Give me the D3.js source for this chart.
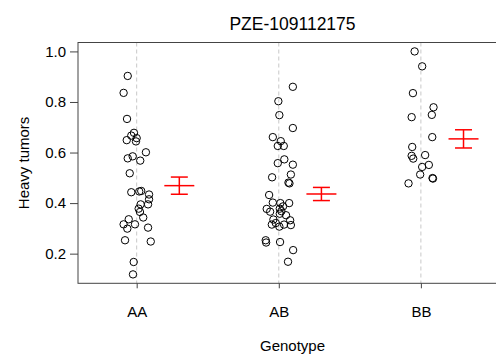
<!DOCTYPE html>
<html>
<head>
<meta charset="utf-8">
<script src="https://cdn.jsdelivr.net/npm/d3@7"></script>
<style>
  body { margin: 0; background: #fff; }
  text { font-family: "Liberation Sans", Arial, sans-serif; fill: #000; }
</style>
</head>
<body>
<svg id="chart" width="496" height="356"></svg>
<script>
// categories and title
const genotypes = ["AA", "AB", "BB"];
const title = "PZE-109112175";
const yTicks = [0.2, 0.4, 0.6, 0.8, 1.0];

// observed values per genotype (heavy tumor proportion)
const aaValues = [0.903, 0.836, 0.733, 0.678, 0.667, 0.657, 0.649, 0.644, 0.601, 0.585, 0.577, 0.568,
  0.518, 0.443, 0.446, 0.448, 0.434, 0.415, 0.395, 0.395, 0.378, 0.365, 0.343, 0.336, 0.316, 0.316,
  0.299, 0.303, 0.253, 0.248, 0.167, 0.118];
const aaJitter = [-0.063, -0.092, -0.068, -0.019, -0.038, 0, -0.070, -0.005, 0.065, -0.028, -0.063, 0.025,
  -0.049, -0.038, 0.018, 0.032, 0.087, 0.087, 0.028, 0.080, 0.014, 0.023, 0.046, -0.056, -0.092, -0.012,
  -0.066, 0.080, -0.082, 0.099, -0.021, -0.026];

const abValues = [0.860, 0.803, 0.748, 0.697, 0.661, 0.645, 0.626, 0.626, 0.573, 0.558, 0.552, 0.502,
  0.513, 0.481, 0.478, 0.432, 0.402, 0.400, 0.400, 0.377, 0.366, 0.378, 0.368, 0.352, 0.335, 0.321,
  0.315, 0.307, 0.315, 0.332, 0.313, 0.253, 0.244, 0.246, 0.214, 0.168, 0.358, 0.387];
const abJitter = [0.099, -0.003, 0.004, 0.099, -0.042, 0.014, -0.007, 0.035, 0.039, -0.007, 0.099, -0.047,
  0.085, 0.068, 0.075, -0.068, -0.042, 0.011, 0.073, -0.085, -0.061, 0.007, 0.018, 0.051, -0.038, -0.021,
  -0.049, 0.004, 0.037, 0.080, 0.085, -0.092, -0.089, 0.009, 0.101, 0.065, 0.007, 0.030];

const bbValues = [1.000, 0.941, 0.835, 0.779, 0.749, 0.740, 0.661, 0.622, 0.587, 0.576, 0.590, 0.551,
  0.543, 0.513, 0.499, 0.497, 0.478];
const bbJitter = [-0.044, 0.009, -0.056, 0.089, 0.077, -0.065, 0.080, -0.061, -0.065, -0.054, 0.030, 0.056,
  0.009, -0.005, 0.082, 0.085, -0.087];

// group mean and standard error (red bars)
const means = [0.469, 0.436, 0.654];
const stdErrs = [0.034, 0.026, 0.036];

const groups = [
  { values: aaValues, jitter: aaJitter },
  { values: abValues, jitter: abJitter },
  { values: bbValues, jitter: bbJitter },
];

// layout
const box = { left: 78, right: 507, top: 42.5, bottom: 283.3 };
const svg = d3.select("#chart");

const points = groups.flatMap((g, gi) =>
  g.values.map((v, i) => ({ x: gi + 1 + g.jitter[i], y: v })));

// R style ylim: data range padded by 4%
const [ymin, ymax] = d3.extent(points, (d) => d.y);
const pad = (ymax - ymin) * 0.04;
const y = d3.scaleLinear().domain([ymin - pad, ymax + pad]).range([box.bottom, box.top]);
const x = d3.scaleLinear().domain([0.587, 3.606]).range([box.left, box.right]);

svg.append("rect").attr("width", 496).attr("height", 356).attr("fill", "#fff");

// dashed guide lines at each genotype
svg.append("g")
  .selectAll("line")
  .data(genotypes)
  .join("line")
  .attr("x1", (d, i) => x(i + 1))
  .attr("x2", (d, i) => x(i + 1))
  .attr("y1", box.top)
  .attr("y2", box.bottom)
  .attr("stroke", "#c8c8c8")
  .attr("stroke-dasharray", "4,3");

// points
svg.append("g")
  .selectAll("circle")
  .data(points)
  .join("circle")
  .attr("cx", (d) => x(d.x))
  .attr("cy", (d) => y(d.y))
  .attr("r", 3.7)
  .attr("fill", "none")
  .attr("stroke", "#000")
  .attr("stroke-width", 1);

// mean +/- se bars
const offset = 0.3;
const bars = svg.append("g").attr("stroke", "#ff0000").attr("stroke-width", 1.5)
  .selectAll("g")
  .data(means)
  .join("g");
bars.append("line")
  .attr("x1", (d, i) => x(i + 1 + offset) - 15)
  .attr("x2", (d, i) => x(i + 1 + offset) + 15)
  .attr("y1", (d) => y(d)).attr("y2", (d) => y(d));
bars.append("line")
  .attr("x1", (d, i) => x(i + 1 + offset)).attr("x2", (d, i) => x(i + 1 + offset))
  .attr("y1", (d, i) => y(d + stdErrs[i])).attr("y2", (d, i) => y(d - stdErrs[i]));
bars.append("line")
  .attr("x1", (d, i) => x(i + 1 + offset) - 8.5)
  .attr("x2", (d, i) => x(i + 1 + offset) + 8.5)
  .attr("y1", (d, i) => y(d + stdErrs[i])).attr("y2", (d, i) => y(d + stdErrs[i]));
bars.append("line")
  .attr("x1", (d, i) => x(i + 1 + offset) - 8.5)
  .attr("x2", (d, i) => x(i + 1 + offset) + 8.5)
  .attr("y1", (d, i) => y(d - stdErrs[i])).attr("y2", (d, i) => y(d - stdErrs[i]));

// plot box
svg.append("rect")
  .attr("x", box.left).attr("y", box.top)
  .attr("width", box.right - box.left).attr("height", box.bottom - box.top)
  .attr("fill", "none").attr("stroke", "#444").attr("stroke-width", 1);

// axes
const yAxis = d3.axisLeft(y).tickValues(yTicks).tickFormat(d3.format(".1f")).tickSize(8).tickPadding(4);
svg.append("g")
  .attr("transform", `translate(${box.left},0)`)
  .call(yAxis)
  .call((g) => g.select(".domain").remove())
  .call((g) => g.selectAll("line").attr("stroke", "#444"))
  .call((g) => g.selectAll("text").attr("font-size", 15).attr("font-family", "Liberation Sans, Arial, sans-serif"));

const xAxis = d3.axisBottom(x).tickValues([1, 2, 3]).tickFormat((d) => genotypes[d - 1]).tickSize(5).tickPadding(18);
svg.append("g")
  .attr("transform", `translate(0,${box.bottom})`)
  .call(xAxis)
  .call((g) => g.select(".domain").remove())
  .call((g) => g.selectAll("line").attr("stroke", "#444"))
  .call((g) => g.selectAll("text").attr("font-size", 15).attr("font-family", "Liberation Sans, Arial, sans-serif"));

// titles
svg.append("text")
  .attr("x", (box.left + box.right) / 2).attr("y", 30)
  .attr("text-anchor", "middle").attr("font-size", 17.5)
  .text(title);
svg.append("text")
  .attr("x", (box.left + box.right) / 2).attr("y", 351)
  .attr("text-anchor", "middle").attr("font-size", 15)
  .text("Genotype");
svg.append("text")
  .attr("transform", `translate(29,${(box.top + box.bottom) / 2}) rotate(-90)`)
  .attr("text-anchor", "middle").attr("font-size", 15)
  .text("Heavy tumors");
</script>
</body>
</html>
